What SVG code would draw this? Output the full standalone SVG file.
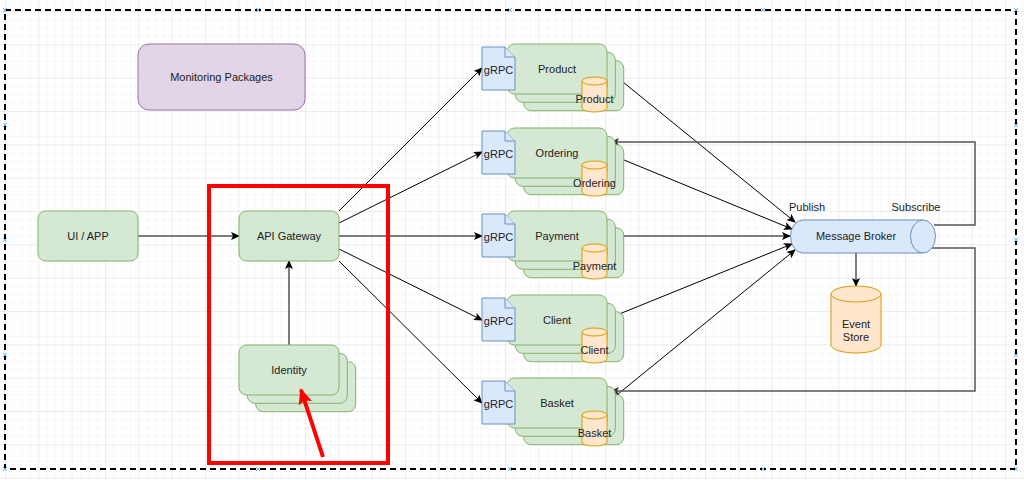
<svg xmlns="http://www.w3.org/2000/svg" width="1024" height="480" viewBox="0 0 1024 480">
<style>
text{font-family:"Liberation Sans",Arial,sans-serif;font-size:11px;fill:#222;text-anchor:middle}
.g{fill:#d5e8d4;stroke:#82b366;stroke-width:1}
.p{fill:#e1d5e7;stroke:#9673a6;stroke-width:1}
.b{fill:#dae8fc;stroke:#6c8ebf;stroke-width:1}
.o{fill:#ffe6cc;stroke:#d79b00;stroke-width:1}
.c{fill:none;stroke:#000;stroke-width:1}
.s{fill:none;stroke:#555;stroke-width:1.5}
.h{stroke:#6ab7e8;stroke-width:1;fill:none}
</style>
<defs>
<pattern id="minor" x="5" y="11" width="8.333" height="8.333" patternUnits="userSpaceOnUse">
<path d="M0,0H8.333M0,0V8.333" stroke="#f2f2f2" stroke-width="1" fill="none"/>
</pattern>
<pattern id="major" x="5" y="11" width="33.333" height="33.333" patternUnits="userSpaceOnUse">
<path d="M0,0H33.333M0,0V33.333" stroke="#e2e2e2" stroke-width="1" fill="none"/>
</pattern>
<marker id="arr" markerWidth="9" markerHeight="8" refX="8" refY="4" orient="auto" markerUnits="userSpaceOnUse">
<path d="M0,0L9,4L0,8L2,4Z" fill="#000"/>
</marker>
<marker id="arrg" markerWidth="9" markerHeight="8" refX="8" refY="4" orient="auto" markerUnits="userSpaceOnUse">
<path d="M0,0L9,4L0,8L2,4Z" fill="#333"/>
</marker>
<marker id="arrr" markerWidth="16" markerHeight="14" refX="14" refY="7" orient="auto" markerUnits="userSpaceOnUse">
<path d="M0,0L16,7L0,14L3,7Z" fill="#ff0000"/>
</marker>
<g id="stackbox">
<rect x="16.7" y="16.7" width="100" height="50" rx="7.5" class="g"/>
<rect x="8.3" y="8.3" width="100" height="50" rx="7.5" class="g"/>
<rect x="0" y="0" width="100" height="50" rx="7.5" class="g"/>
</g>
<g id="note">
<path d="M0,0H23L33,10V43H0Z" class="b"/>
<path d="M23,0V10H33" class="b"/>
</g>
<g id="cyl">
<path d="M0,4A12.5,4 0 0 1 25,4V31A12.5,4 0 0 1 0,31Z" class="o"/>
<path d="M0,4A12.5,4 0 0 0 25,4" class="o"/>
</g>
</defs>

<rect width="1024" height="480" fill="#fff"/>
<rect width="1024" height="480" fill="url(#minor)"/>
<rect width="1024" height="480" fill="url(#major)"/>

<rect id="frame" x="5" y="10" width="1011" height="459" fill="none" stroke="#000" stroke-width="2" stroke-dasharray="6 4"/>
<g id="handles">
<path class="h" d="M3,8l4,4m0,-4l-4,4M256,8l4,4m0,-4l-4,4M508,8l4,4m0,-4l-4,4M761,8l4,4m0,-4l-4,4M1014,8l4,4m0,-4l-4,4M3,123l4,4m0,-4l-4,4M3,238l4,4m0,-4l-4,4M3,353l4,4m0,-4l-4,4M1014,123l4,4m0,-4l-4,4M1014,238l4,4m0,-4l-4,4M1014,353l4,4m0,-4l-4,4M3,467l4,4m0,-4l-4,4M256,467l4,4m0,-4l-4,4M508,467l4,4m0,-4l-4,4M761,467l4,4m0,-4l-4,4M1014,467l4,4m0,-4l-4,4"/>
</g>

<g id="connectors">
<path class="c" d="M138,236H239" marker-end="url(#arr)"/>
<path class="c" d="M289,345V261" marker-end="url(#arr)"/>
<path class="c" d="M339,211L482,68" marker-end="url(#arr)"/>
<path class="c" d="M339,223L482,152" marker-end="url(#arr)"/>
<path class="c" d="M339,236H482" marker-end="url(#arr)"/>
<path class="c" d="M339,249L482,320" marker-end="url(#arr)"/>
<path class="c" d="M339,261L482,403" marker-end="url(#arr)"/>
<path class="c" d="M607,69L795,222" marker-end="url(#arr)"/>
<path class="c" d="M607,153L792,229" marker-end="url(#arr)"/>
<path class="c" d="M607,236H790" marker-end="url(#arr)"/>
<path class="c" d="M607,319L792,244" marker-end="url(#arr)"/>
<path class="c" d="M607,403L795,250" marker-end="url(#arr)"/>
<path class="s" d="M934,225H975V142H611" marker-end="url(#arrg)"/>
<path class="s" d="M932,248H975V391H611" marker-end="url(#arrg)"/>
<path class="c" d="M856,252V286" marker-end="url(#arr)"/>
</g>

<g id="monitoring">
<rect x="138" y="44" width="167" height="66" rx="11" class="p"/>
<text x="221.5" y="81">Monitoring Packages</text>
</g>

<g id="uiapp">
<rect x="38" y="211" width="100" height="50" rx="7.5" class="g"/>
<text x="88" y="240">UI / APP</text>
</g>

<g id="apigateway">
<rect x="239" y="211" width="100" height="50" rx="7.5" class="g"/>
<text x="289" y="240">API Gateway</text>
</g>

<g id="identity">
<use href="#stackbox" x="239" y="345"/>
<text x="289" y="374">Identity</text>
</g>

<g id="product">
<use href="#stackbox" x="507" y="44"/>
<text x="557" y="73">Product</text>
<use href="#note" x="482" y="47"/>
<text x="498.5" y="74">gRPC</text>
<use href="#cyl" x="582" y="77"/>
<text x="594.5" y="103">Product</text>
</g>

<g id="ordering">
<use href="#stackbox" x="507" y="128"/>
<text x="557" y="157">Ordering</text>
<use href="#note" x="482" y="131"/>
<text x="498.5" y="158">gRPC</text>
<use href="#cyl" x="582" y="161"/>
<text x="594.5" y="187">Ordering</text>
</g>

<g id="payment">
<use href="#stackbox" x="507" y="211"/>
<text x="557" y="240">Payment</text>
<use href="#note" x="482" y="214"/>
<text x="498.5" y="241">gRPC</text>
<use href="#cyl" x="582" y="244"/>
<text x="594.5" y="270">Payment</text>
</g>

<g id="client">
<use href="#stackbox" x="507" y="295"/>
<text x="557" y="324">Client</text>
<use href="#note" x="482" y="298"/>
<text x="498.5" y="325">gRPC</text>
<use href="#cyl" x="582" y="328"/>
<text x="594.5" y="354">Client</text>
</g>

<g id="basket">
<use href="#stackbox" x="507" y="378"/>
<text x="557" y="407">Basket</text>
<use href="#note" x="482" y="381"/>
<text x="498.5" y="408">gRPC</text>
<use href="#cyl" x="582" y="411"/>
<text x="594.5" y="437">Basket</text>
</g>

<g id="broker">
<path d="M803,220H923A12.5,16.5 0 0 1 923,253H803A12.5,16.5 0 0 1 803,220Z" class="b"/>
<path d="M923,220A12.5,16.5 0 0 0 923,253" class="b"/>
<text x="856" y="240">Message Broker</text>
<text x="807" y="211">Publish</text>
<text x="916" y="211">Subscribe</text>
</g>

<g id="eventstore">
<path d="M831,294A25,8 0 0 1 881,294V345A25,8 0 0 1 831,345Z" class="o"/>
<path d="M831,294A25,8 0 0 0 881,294" class="o"/>
<text x="856" y="328">Event</text>
<text x="856" y="341">Store</text>
</g>

<g id="highlight">
<rect x="209" y="186" width="179" height="277" fill="none" stroke="#ff0000" stroke-width="4"/>
<path d="M323,457L301,390" fill="none" stroke="#ff0000" stroke-width="4" marker-end="url(#arrr)"/>
</g>
</svg>
